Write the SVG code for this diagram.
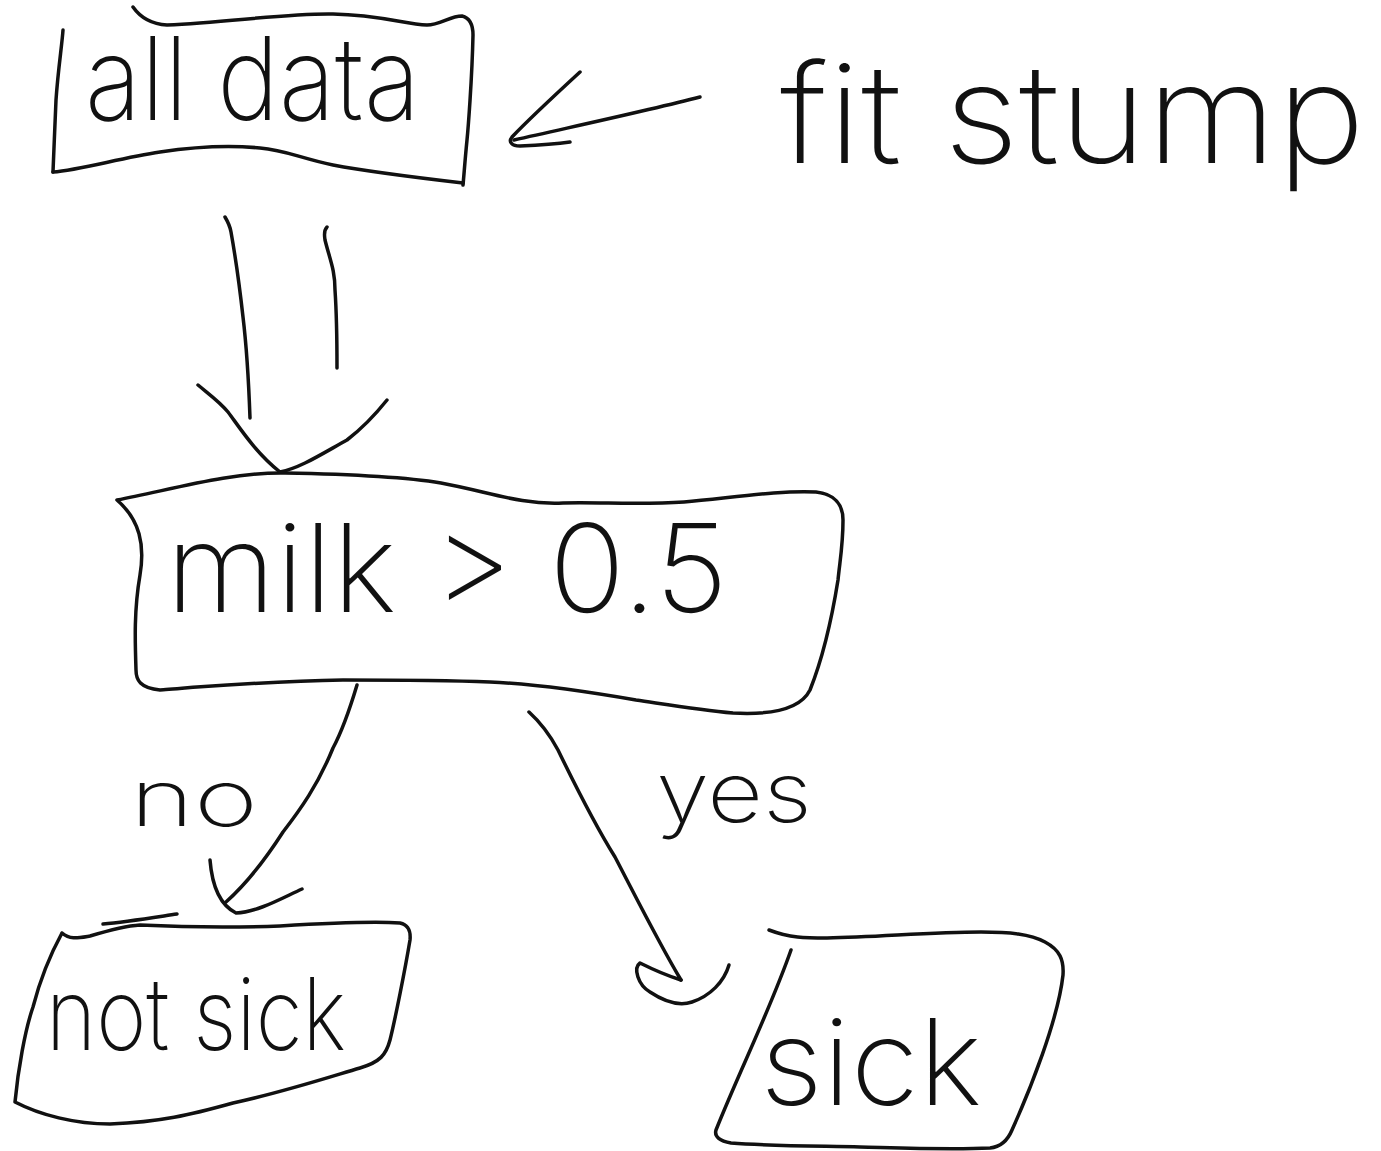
<svg xmlns="http://www.w3.org/2000/svg" width="1381" height="1151" viewBox="0 0 1381 1151">
  <style>
    .ink { fill: none; stroke: #111; stroke-width: 3.5; stroke-linecap: round; stroke-linejoin: round; }
    .hand { font-family: Inter, "Open Sans", "Liberation Sans", sans-serif; font-weight: 200; fill: #111; }
  </style>
  <rect width="1381" height="1151" fill="#fff"/>

  <!-- root: all data -->
  <g id="node-all-data">
    <path class="ink" d="M133,7 C140,17 150,24 167,25 C230,22 290,13 333,14 C380,15 405,24 427,25 C440,25 450,16 462,16 C470,18 473,25 473,35 C472,80 468,130 467,140 C465,160 464,175 463,185"/>
    <path class="ink" d="M463,183 C420,178 370,172 333,165 C300,158 285,150 260,148 C230,145 200,146 160,152 C120,158 80,170 53,172"/>
    <path class="ink" d="M53,172 C54,150 55,120 56,100 C58,70 62,45 63,30"/>
    <text class="hand" x="85" y="120" font-size="116" textLength="335" lengthAdjust="spacingAndGlyphs">all data</text>
  </g>

  <!-- annotation -->
  <g id="node-fit-stump">
    <text class="hand" x="780" y="163" font-size="138" textLength="585" lengthAdjust="spacingAndGlyphs">fit stump</text>
  </g>

  <!-- split: milk > 0.5 -->
  <g id="node-milk">
    <path class="ink" d="M117,500 C170,490 230,472 285,473 C340,474 400,476 441,483 C490,492 520,505 563,503 C600,502 640,505 684,502 C730,498 780,490 816,492 C835,494 843,505 843,520 C843,545 840,560 838,580 C830,630 820,665 810,690 C800,710 770,715 733,713 C700,710 670,705 636,700 C590,692 540,684 490,682 C440,680 390,680 343,680 C290,681 240,684 197,687 C175,689 165,690 160,690 C140,688 136,680 136,670 C135,640 134,610 140,575 C145,545 140,520 117,500 Z"/>
    <text class="hand" x="166" y="612" font-size="122" textLength="562" lengthAdjust="spacingAndGlyphs">milk &gt; 0.5</text>
  </g>

  <!-- leaf: not sick -->
  <g id="node-not-sick">
    <path class="ink" d="M62,933 C70,940 78,938 90,936 C110,930 125,926 140,925 C180,927 230,928 280,926 C330,923 370,921 400,923 C408,925 411,930 410,940 C405,970 395,1020 390,1040 C386,1055 380,1062 360,1068 C320,1080 280,1093 233,1103 C190,1115 160,1122 110,1124 C75,1124 40,1115 15,1102 C18,1070 25,1030 33,1007 C40,980 50,955 62,933"/>
    <path class="ink" d="M103,924 C125,922 150,918 177,914"/>
    <text class="hand" x="46" y="1050" font-size="100" textLength="300" lengthAdjust="spacingAndGlyphs">not sick</text>
  </g>

  <!-- leaf: sick -->
  <g id="node-sick">
    <path class="ink" d="M769,930 C790,938 805,938 827,938 C880,937 930,932 981,932 C1010,932 1030,934 1045,942 C1060,950 1064,960 1063,975 C1058,1020 1030,1090 1012,1130 C1007,1142 1000,1147 990,1148 C950,1150 900,1148 860,1147 C820,1146 770,1146 731,1143 C720,1141 714,1137 716,1130 C740,1070 770,1010 791,950"/>
    <text class="hand" x="760" y="1105" font-size="120" textLength="222" lengthAdjust="spacingAndGlyphs">sick</text>
  </g>

  <!-- connectors and their labels -->
  <g id="connectors">
    <!-- fit stump -> all data -->
    <path class="ink" d="M700,97 C650,110 580,125 514,140"/>
    <path class="ink" d="M580,72 C555,95 530,118 512,137 C508,142 512,146 520,146 C540,145 555,144 570,142"/>

    <!-- all data => milk > 0.5 (double shaft) -->
    <path class="ink" d="M225,217 C228,222 230,226 231,232 C236,260 240,290 243,317 C247,350 249,390 250,418"/>
    <path class="ink" d="M327,227 C324,230 324,234 325,240 C330,260 335,270 335,290 C337,320 337,345 337,368"/>
    <path class="ink" d="M198,385 C210,395 220,402 228,412 C240,428 255,452 280,472 C300,468 320,455 347,440 C360,430 375,415 387,400"/>

    <!-- milk > 0.5 -> not sick -->
    <path class="ink" d="M357,685 C348,715 340,735 333,748 C318,785 300,810 283,832 C265,860 245,885 226,902"/>
    <path class="ink" d="M210,860 C212,885 220,905 236,913 C258,912 282,898 302,889"/>
    <text class="hand" x="130" y="826" font-size="78" textLength="128" lengthAdjust="spacingAndGlyphs">no</text>

    <!-- milk > 0.5 -> sick -->
    <path class="ink" d="M529,712 C540,722 550,735 558,750 C575,785 595,825 615,857 C640,905 660,945 681,980"/>
    <path class="ink" d="M681,980 C665,975 650,968 640,963 C633,968 638,985 650,992 C665,1002 680,1006 692,1002 C710,996 724,982 729,965"/>
    <text class="hand" x="656" y="822" font-size="84" textLength="156" lengthAdjust="spacingAndGlyphs">yes</text>
  </g>
</svg>
